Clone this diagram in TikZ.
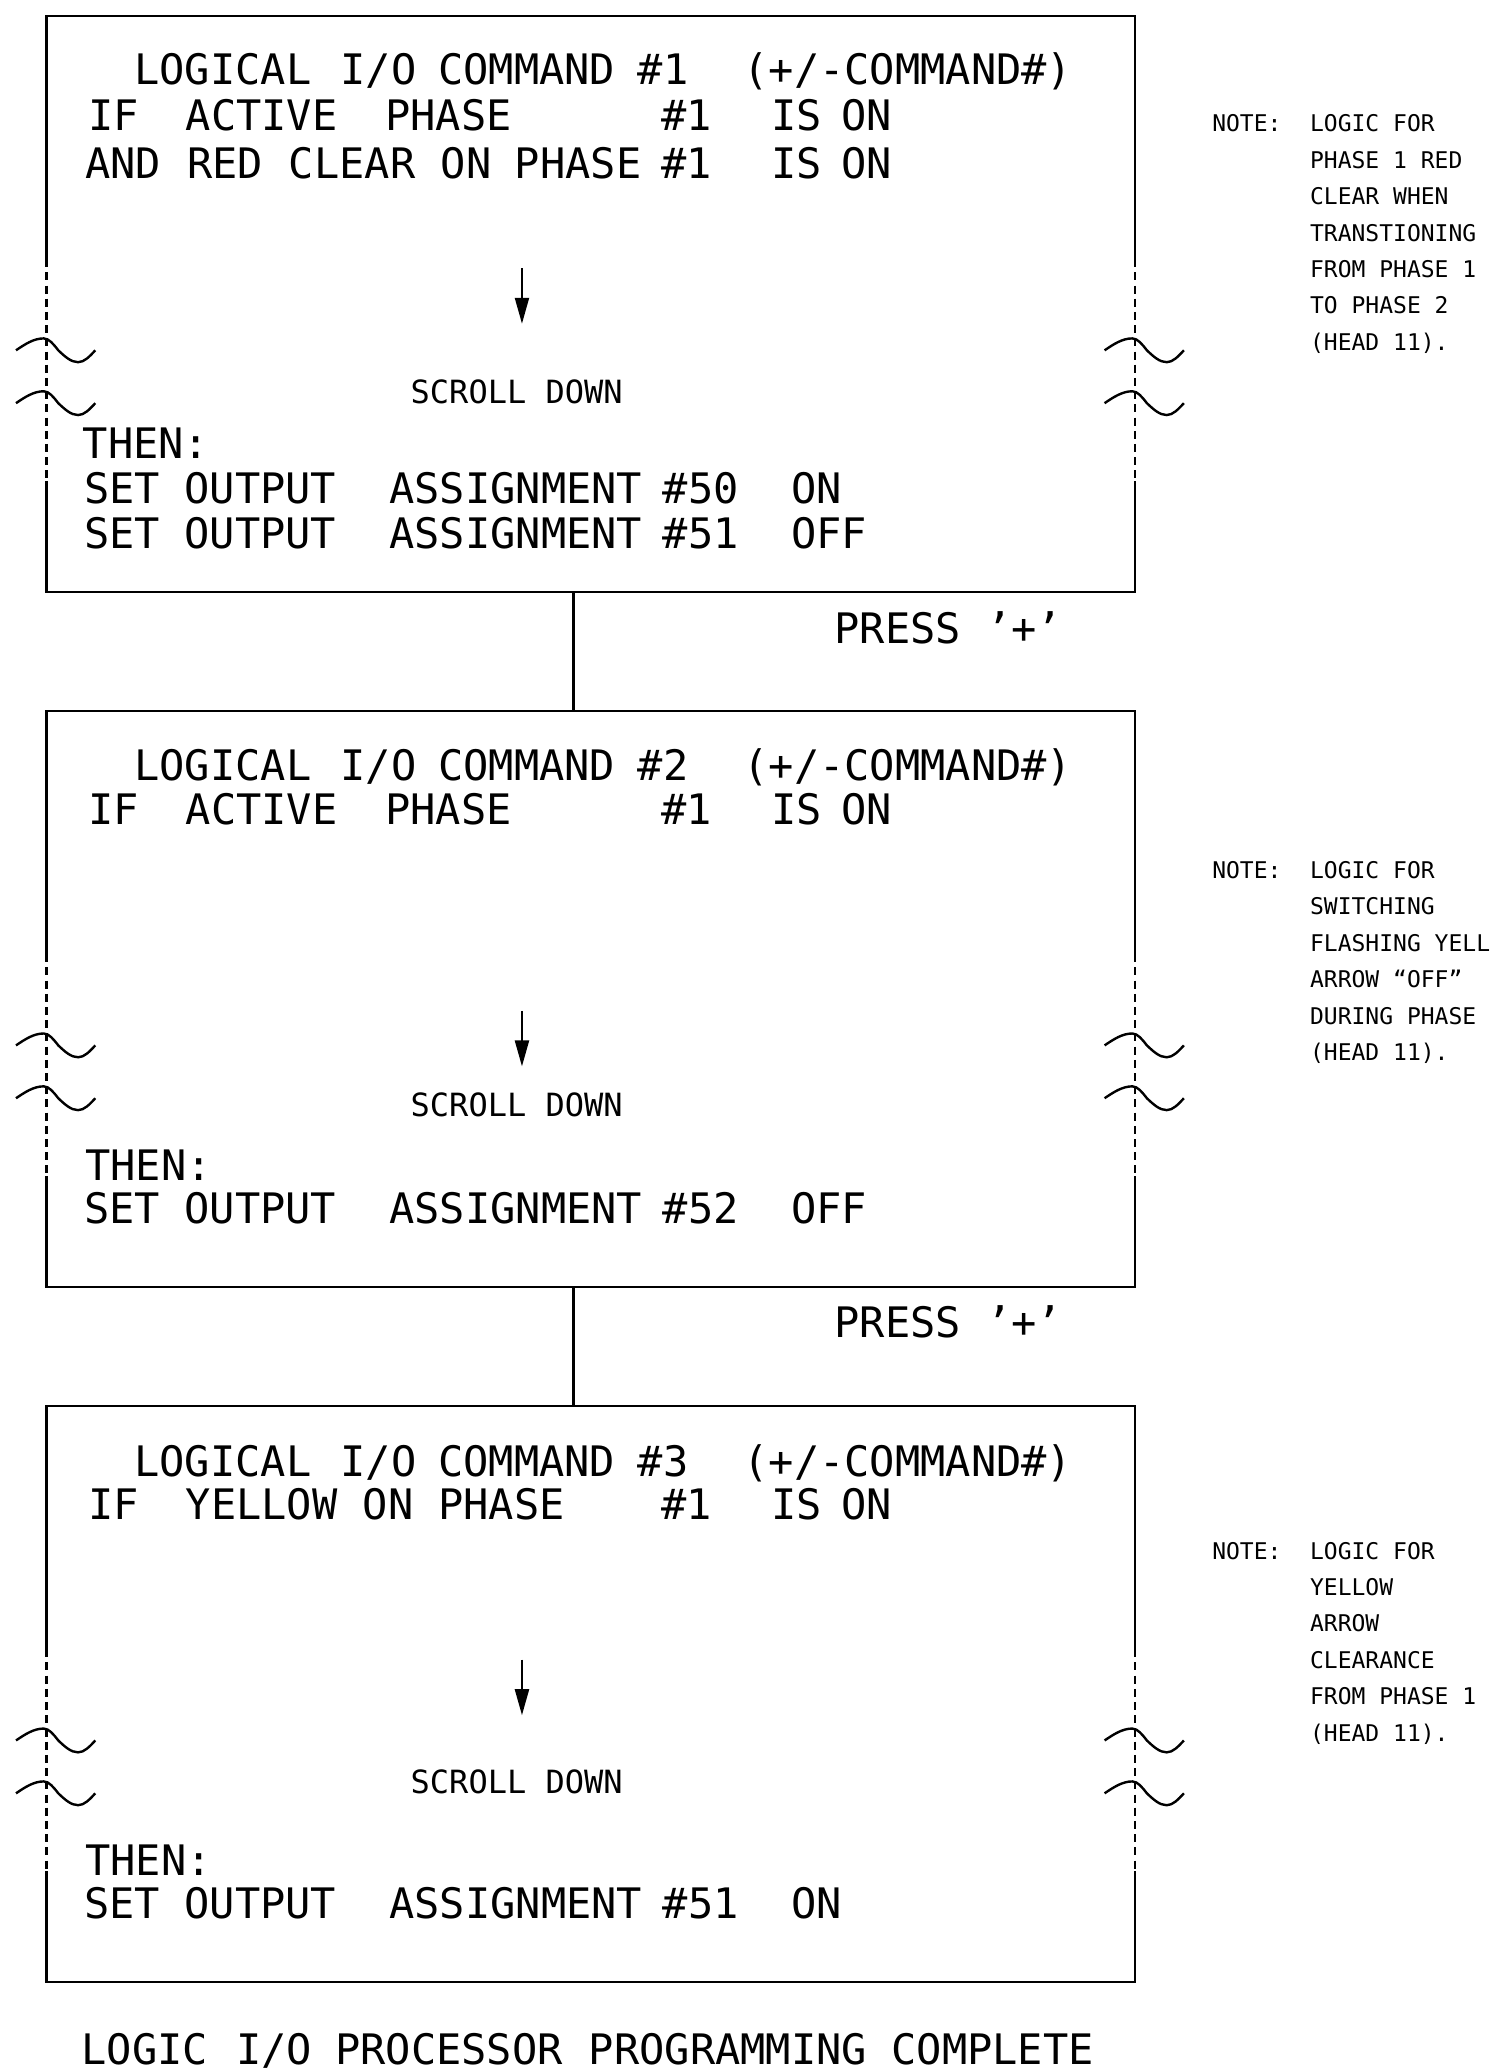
\documentclass[tikz,border=0pt]{standalone}
\usepackage{fontspec}
\setmainfont{DejaVu Sans Mono}
\usetikzlibrary{arrows.meta}

\begin{document}
\begin{tikzpicture}%
  [x=0.6606pt,y=-0.6606pt,line width=1.2pt]
  \tikzstyle{panel}=[rectangle,draw=none,inner sep=0,minimum width=543pt,minimum height=286.7pt]
  \tikzstyle{txt}=[anchor=base west,inner sep=0,xshift=-1.5pt,font=\fontsize{21}{24}\selectfont]
  \tikzstyle{small}=[anchor=base,inner sep=0,font=\fontsize{16}{19}\selectfont]
  \tikzstyle{note}=[anchor=north west,inner sep=0,xshift=-1pt,align=left,font=\fontsize{11.5}{18.2}\selectfont]
  \tikzstyle{brk}=[dash pattern=on 4pt off 2.6pt]
  \tikzstyle{arr}=[-{Triangle[length=13pt,width=7pt]},line width=1.1pt]
  \useasboundingbox (0,0) rectangle (1127,1568);
  \node(box1)[panel] at (447,230) {};
  \node(box2)[panel] at (447,756) {};
  \node(box3)[panel] at (447,1282) {};
  \foreach \b in {box1,box2,box3}{
    \draw (\b.north west) ++(0,184) -- (\b.north west) -- (\b.north east) -- ++(0,184);
    \draw (\b.south west) ++(0,-84) -- (\b.south west) -- (\b.south east) -- ++(0,-84);
    \draw[brk] (\b.north west) ++(0,184) -- ++(0,166);
    \draw[brk] (\b.north east) ++(0,184) -- ++(0,166);
    \foreach \c in {north west,north east}
      \foreach \t in {253,293}
        \draw (\b.\c) ++(-23,\t) sin ++(21,-9) cos ++(11,9) sin ++(15,9) cos ++(13,-9);
  }
  \draw ([xshift=-8.6pt]box1.south) -- ([xshift=-8.6pt]box2.north);
  \draw ([xshift=-8.6pt]box2.south) -- ([xshift=-8.6pt]box3.north);
  % scroll arrows
  \foreach \y [count=\i] in {203,765,1256}{
    \coordinate (a\i) at (395,\y);
    \coordinate (b\i) at (395,\y+42);
    \draw[arr] (a\i) -- (b\i);
  }
  % command lines
  \foreach \y/\n in {64/1,591/2,1117/3}
    \foreach \x/\w in {103/LOGICAL,259/{I/O},333/COMMAND,484/\#\n,564/{(+/-COMMAND\#)}}
      \node[txt] (h\n-\x) at (\x,\y) {\w};
  \foreach \y/\n in {99/1,624/2}
    \foreach \x/\w in {68/IF,142/ACTIVE,293/PHASE,502/\#1,585/IS,638/ON}
      \node[txt] (p\n-\x) at (\x,\y) {\w};
  \foreach \x/\w in {66/AND,143/RED,220/CLEAR,335/ON,391/PHASE,502/\#1,585/IS,638/ON}
    \node[txt] (r-\x) at (\x,135) {\w};
  \foreach \x/\w in {68/IF,142/YELLOW,276/ON,333/PHASE,502/\#1,585/IS,638/ON}
    \node[txt] (y-\x) at (\x,1150) {\w};
  \foreach \y/\x [count=\i] in {347/64,893/66,1419/66}
    \node[txt] (th\i) at (\x,\y) {THEN:};
  \foreach \y/\a/\s [count=\i] in {381/50/ON,415/51/OFF,926/52/OFF,1452/51/ON}
    \foreach \x/\w in {65/SET,141/OUTPUT,296/ASSIGNMENT,503/\#\a,600/\s}
      \node[txt] (s\i-\x) at (\x,\y) {\w};
  \foreach \y [count=\i] in {305,845,1357}
    \node[small] (sd\i) at (391,\y) {SCROLL DOWN};
  \foreach \y [count=\i] in {487,1012}
    \node[txt] (pr\i) at (633,\y) {PRESS ’+’};
  \foreach \x/\w in {63/LOGIC,180/{I/O},255/PROCESSOR,447/PROGRAMMING,676/COMPLETE}
    \node[txt] (f-\x) at (\x,1562) {\w};
  % notes
  \node[note] (n1) at (918,86) {NOTE:};
  \node[note] (t1) at (992,86) {LOGIC FOR\\PHASE 1 RED\\CLEAR WHEN\\TRANSTIONING\\FROM PHASE 1\\TO PHASE 2\\(HEAD 11).};
  \node[note] (n2) at (918,651) {NOTE:};
  \node[note] (t2) at (992,651) {LOGIC FOR\\SWITCHING\\FLASHING YELL\\ARROW “OFF”\\DURING PHASE\\(HEAD 11).};
  \node[note] (n3) at (918,1166) {NOTE:};
  \node[note] (t3) at (992,1166) {LOGIC FOR\\YELLOW\\ARROW\\CLEARANCE\\FROM PHASE 1\\(HEAD 11).};
\end{tikzpicture}
\end{document}
